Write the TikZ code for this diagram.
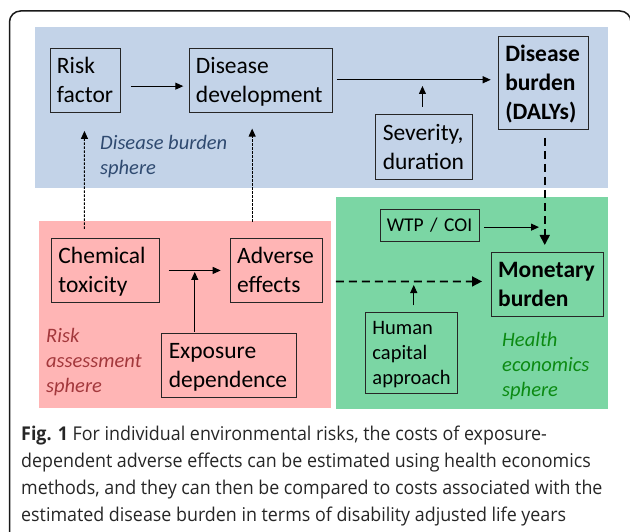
\documentclass[tikz,border=0pt]{standalone}
\usepackage{fontspec}
\setmainfont{Carlito}
\newfontfamily\capfont[FakeStretch=0.94]{Open Sans}
\usetikzlibrary{arrows.meta}
\definecolor{blueBg}{HTML}{C3D3E8}
\definecolor{greenBg}{HTML}{7BD6A4}
\definecolor{pinkBg}{HTML}{FFB5B5}
\definecolor{blueTx}{HTML}{2F4A70}
\definecolor{redTx}{HTML}{A3383C}
\definecolor{greenTx}{HTML}{0B8A12}
\newcommand\tstrut{\rule{0pt}{21.8pt}}
\newcommand\bstrut{\rule[-7.2pt]{0pt}{7.2pt}}
\newcommand\tsm{\rule{0pt}{19pt}}
\newcommand\bsm{\rule[-6pt]{0pt}{6pt}}
\tikzset{
  x=1pt,y=-1pt,
  boxed/.style 2 args={draw=black!85,line width=0.9pt,anchor=north west,align=left,inner xsep=7pt,inner ysep=0pt,
    text width=#1-14pt,minimum height=#2,font=\fontsize{23.5}{29}\selectfont},
  sphere/.style={anchor=north west,align=left,inner sep=0pt,font=\fontsize{20.5}{25}\selectfont\itshape},
  solidarrow/.style={-{Triangle[length=8pt,width=7pt]},line width=1pt},
  dotarrow/.style={-{Triangle[length=8pt,width=7pt]},line width=1pt,dash pattern=on 2.5pt off 1.5pt},
  dasharrow/.style={-{Triangle[length=10pt,width=10pt]},line width=1.7pt,dash pattern=on 8pt off 5pt},
  caption/.style={anchor=base west,inner sep=0pt,text=black!85,font=\capfont\fontsize{19}{27}\selectfont},
}
\begin{document}
\begin{tikzpicture}
\useasboundingbox (0,0) rectangle (630,532);
\draw[line width=1.5pt,black!90,rounded corners=11pt] (9.5,560) -- (9.5,11) -- (631,11) -- (631,560);
\fill[blueBg] (35,27) rectangle (608,188);
\fill[pinkBg] (39,221) rectangle (331,408);
\fill[greenBg] (336,197) rectangle (608,409);

\node[boxed={70.5pt}{64pt}] (risk) at (49.5,48.5) {\tstrut Risk\\factor\bstrut};
\node[boxed={143pt}{64pt}] (dev) at (188.5,48.5) {\tstrut Disease\\development\bstrut};
\node[boxed={90.5pt}{93.5pt},font=\fontsize{23.5}{29}\selectfont\bfseries] (burden) at (497.8,35.8) {\tstrut Disease\\burden\\(DALYs)\bstrut};
\node[boxed={96.5pt}{65pt}] (severity) at (375.3,114.3) {\tstrut Severity,\\duration\bstrut};
\node[boxed={107.7pt}{64.3pt}] (tox) at (51,237.7) {\tstrut Chemical\\toxicity\bstrut};
\node[boxed={92pt}{64.3pt}] (adverse) at (229.7,237.7) {\tstrut Adverse\\effects\bstrut};
\node[boxed={134.4pt}{64.6pt}] (exposure) at (161.3,332.7) {\tstrut Exposure\\dependence\bstrut};
\node[boxed={98.7pt}{31.4pt},inner xsep=6pt,text width=86.7pt,font=\fontsize{19.5}{25}\selectfont] (wtp) at (380.3,209.3) {\tsm\mbox{WTP / COI}\bsm};
\node[boxed={112pt}{64.3pt},font=\fontsize{23.5}{29}\selectfont\bfseries] (money) at (490.7,252) {\tstrut Monetary\\burden\bstrut};
\node[boxed={91.7pt}{80.7pt},font=\fontsize{20.5}{25}\selectfont] (human) at (365,312.3) {\tsm Human\\capital\\approach\bsm};

\node[sphere,text=blueTx] (s1) at (100,135) {Disease burden\\sphere};
\node[sphere,text=redTx] (s2) at (46,328) {Risk\\assessment\\sphere};
\node[sphere,text=greenTx] (s3) at (502,332) {Health\\economics\\sphere};

\draw[solidarrow] ([shift={(10,5.2)}]risk.east) -- ([shift={(-5.2,5.2)}]dev.west);
\draw[solidarrow] ([shift={(4.5,-1.2)}]dev.east) -- ([shift={(-7.1,-3.25)}]burden.west);
\draw[solidarrow] ([shift={(-1.55,-7.6)}]severity.north) -- ([shift={(-1.55,-28.3)}]severity.north);
\draw[dotarrow] ([shift={(-20.85,-8.7)}]tox.north) -- ([shift={(-0.75,17.5)}]risk.south);
\draw[dotarrow] ([shift={(-24,-15.7)}]adverse.north) -- ([shift={(-8.3,15.2)}]dev.south);
\draw[solidarrow] ([shift={(9,0.15)}]tox.east) -- ([shift={(-9,0.15)}]adverse.west);
\draw[solidarrow] ([shift={(-34.2,-1)}]exposure.north) -- ([shift={(-34.2,-60.7)}]exposure.north);
\draw[dasharrow] ([shift={(1.25,7.7)}]burden.south) -- ([shift={(-2.4,-7)}]money.north);
\draw[solidarrow] ([shift={(4.3,1.7)}]wtp.east) -- ([shift={(48.3,-57.45)}]money.west);
\draw[dasharrow] ([shift={(13.3,11.15)}]adverse.east) -- ([shift={(-8.7,-3.15)}]money.west);
\draw[solidarrow] ([shift={(2.45,-7)}]human.north) -- ([shift={(2.45,-27.3)}]human.north);

\node[caption] (c1) at (21,440) {\textbf{Fig. 1} For individual environmental risks, the costs of exposure-};
\node[caption] (c2) at (21,467) {dependent adverse effects can be estimated using health economics};
\node[caption] (c3) at (21,494.5) {methods, and they can then be compared to costs associated with the};
\node[caption] (c4) at (21,521.5) {estimated disease burden in terms of disability adjusted life years};
\end{tikzpicture}
\end{document}
